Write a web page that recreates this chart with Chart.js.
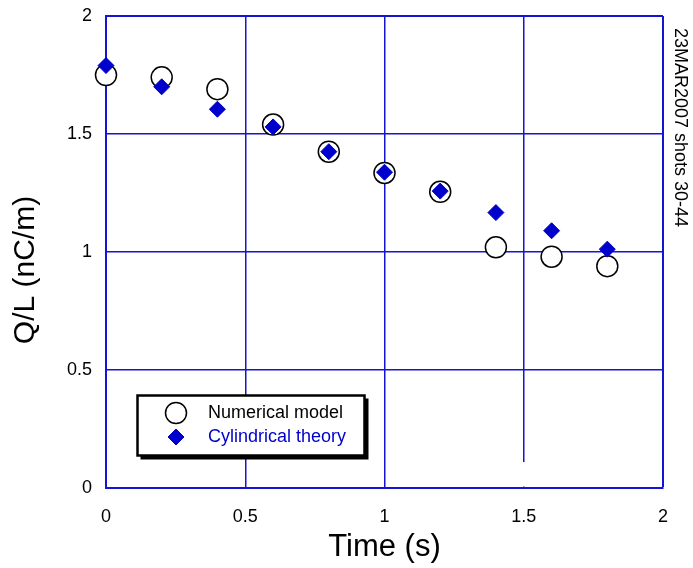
<!DOCTYPE html>
<html>
<head>
<meta charset="utf-8">
<script src="https://cdn.jsdelivr.net/npm/chart.js@4/dist/chart.umd.min.js"></script>
<style>
  html, body { margin: 0; padding: 0; background: #fff; }
  #myChart { display: block; }
</style>
</head>
<body>
<canvas id="myChart" width="693" height="568"></canvas>
<script>
const times = [0, 0.2, 0.4, 0.6, 0.8, 1.0, 1.2, 1.4, 1.6, 1.8];
const numericalModel = [1.75, 1.74, 1.69, 1.54, 1.425, 1.335, 1.255, 1.02, 0.98, 0.94];
const cylindricalTheory = [1.79, 1.70, 1.605, 1.53, 1.425, 1.338, 1.258, 1.167, 1.09, 1.012];
const xTicks = [0, 0.5, 1, 1.5, 2];
const yTicks = [0, 0.5, 1, 1.5, 2];

const FONT = '"Liberation Sans", Arial, Helvetica, sans-serif';
const BLUE = '#0000cc';
const GRID = '#1414d2';

const toPoints = (ys) => times.map((t, i) => ({ x: t, y: ys[i] }));

// frame, axis title, run label and boxed legend
const decorations = {
    id: 'decorations',
    beforeDatasetsDraw(chart) {
        // the 1.5 s grid line stops short of the bottom axis
        const { ctx, scales: { x, y } } = chart;
        const px = x.getPixelForValue(1.5);
        ctx.save();
        ctx.fillStyle = '#fff';
        ctx.fillRect(px - 2, y.getPixelForValue(0.11), 4, y.getPixelForValue(0) - y.getPixelForValue(0.11) - 1.5);
        ctx.restore();
    },
    afterDatasetsDraw(chart) {
        const ctx = chart.ctx;
        ctx.save();

        // y axis title
        ctx.translate(26, 270);
        ctx.rotate(-Math.PI / 2);
        ctx.font = '30px ' + FONT;
        ctx.fillStyle = '#000';
        ctx.textAlign = 'center';
        ctx.textBaseline = 'middle';
        ctx.fillText('Q/L (nC/m)', 0, 0);
        ctx.setTransform(1, 0, 0, 1, 0, 0);

        // run label down the right edge
        ctx.translate(680, 28);
        ctx.rotate(Math.PI / 2);
        ctx.font = '18px ' + FONT;
        ctx.textAlign = 'left';
        ctx.fillText('23MAR2007 shots 30-44', 0, 0);
        ctx.setTransform(1, 0, 0, 1, 0, 0);

        // legend box with drop shadow
        const bx = 137.5, by = 395.5, bw = 227, bh = 60;
        ctx.fillStyle = '#000';
        ctx.fillRect(bx + 3, by + 3, bw + 1, bh + 1);
        ctx.fillStyle = '#fff';
        ctx.fillRect(bx, by, bw, bh);
        ctx.lineWidth = 2.5;
        ctx.strokeStyle = '#000';
        ctx.strokeRect(bx, by, bw, bh);

        const drawPoint = Chart.helpers && Chart.helpers.drawPoint;
        const ds = chart.data.datasets;
        const rows = [
            { y: 413, text: 'Numerical model', color: '#000', d: ds[0] },
            { y: 437, text: 'Cylindrical theory', color: BLUE, d: ds[1] }
        ];
        rows.forEach(r => {
            ctx.fillStyle = r.d.backgroundColor;
            ctx.strokeStyle = r.d.borderColor;
            ctx.lineWidth = r.d.borderWidth;
            if (drawPoint) {
                drawPoint(ctx, { pointStyle: r.d.pointStyle, radius: r.d.pointRadius, rotation: 0, borderWidth: r.d.borderWidth }, 176, r.y);
            }
            ctx.font = '18px ' + FONT;
            ctx.fillStyle = r.color;
            ctx.textAlign = 'left';
            ctx.textBaseline = 'middle';
            ctx.fillText(r.text, 208, r.y);
        });
        ctx.restore();
    }
};

const ctx = document.getElementById('myChart').getContext('2d');

new Chart(ctx, {
    type: 'scatter',
    data: {
        datasets: [
            {
                label: 'Numerical model',
                data: toPoints(numericalModel),
                pointStyle: 'circle',
                pointRadius: 10.5,
                backgroundColor: '#fff',
                borderColor: '#000',
                borderWidth: 1.5,
                clip: false,
                order: 1
            },
            {
                label: 'Cylindrical theory',
                data: toPoints(cylindricalTheory),
                pointStyle: 'rectRot',
                pointRadius: 8,
                backgroundColor: BLUE,
                borderColor: BLUE,
                borderWidth: 1,
                clip: false,
                order: 0
            }
        ]
    },
    options: {
        responsive: false,
        animation: false,
        layout: { padding: { top: 16, right: 30, left: 0, bottom: 0 } },
        plugins: {
            legend: { display: false },
            tooltip: { enabled: false }
        },
        scales: {
            x: {
                type: 'linear',
                min: 0,
                max: 2,
                afterFit: (s) => { s.height = 80; s.paddingLeft = 0; s.paddingRight = 0; },
                afterBuildTicks: (s) => { s.ticks = xTicks.map(v => ({ value: v })); },
                grid: {
                    color: GRID,
                    lineWidth: (c) => (c.tick && c.tick.value === 2 ? 2 : 1.5),
                    drawTicks: false
                },
                border: { color: GRID, width: 2 },
                ticks: {
                    padding: 18,
                    color: '#000',
                    font: { family: FONT, size: 18 },
                    callback: (v) => String(v)
                },
                title: {
                    display: true,
                    text: 'Time (s)',
                    color: '#000',
                    font: { family: FONT, size: 31 },
                    padding: { top: 0, bottom: 2 }
                }
            },
            y: {
                type: 'linear',
                min: 0,
                max: 2,
                afterFit: (s) => { s.width = 106; s.paddingTop = 0; s.paddingBottom = 0; },
                afterBuildTicks: (s) => { s.ticks = yTicks.map(v => ({ value: v })); },
                grid: {
                    color: GRID,
                    lineWidth: (c) => (c.tick && c.tick.value === 2 ? 2 : 1.5),
                    drawTicks: false
                },
                border: { color: GRID, width: 2 },
                ticks: {
                    padding: 14,
                    color: '#000',
                    font: { family: FONT, size: 18 },
                    callback: (v) => String(v)
                }
            }
        }
    },
    plugins: [decorations]
});
</script>
</body>
</html>
